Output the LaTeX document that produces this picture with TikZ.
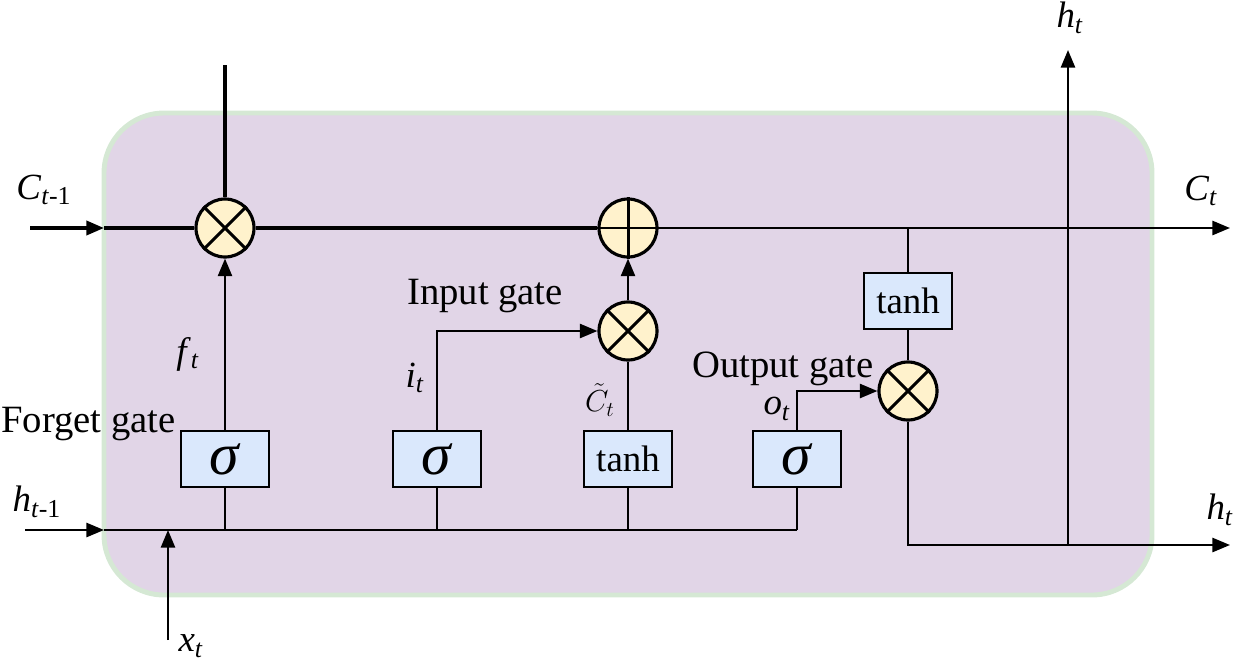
\documentclass[tikz,border=0pt]{standalone}
\usepackage{fontspec}
\setmainfont{Liberation Serif}
\usetikzlibrary{arrows.meta}
\definecolor{cellpurple}{HTML}{E1D5E7}
\definecolor{cellborder}{HTML}{D5E8D4}
\definecolor{boxblue}{HTML}{DAE8FC}
\definecolor{opyellow}{HTML}{FFF2CC}
\newcommand{\lsym}[2]{\textit{#1}\textsubscript{#2}}
\newcommand{\sigsym}{{\fontsize{34}{36}\selectfont\textit{σ}}}
\begin{document}
\begin{tikzpicture}[x=0.02cm,y=-0.02cm,
  line width=1.35pt,
  arr/.style={-{Triangle[length=10pt,width=8pt]}},
  gatebox/.style={draw, fill=boxblue, line width=1.6pt, minimum width=1.76cm, minimum height=1.12cm, inner sep=0pt, font=\fontsize{21}{25}\selectfont},
  op/.style={circle, draw, fill=opyellow, line width=1.8pt, minimum size=1.16cm, inner sep=0pt},
  lbl/.style={inner sep=0pt, font=\fontsize{21}{25}\selectfont},
  txt/.style={inner sep=0pt, font=\fontsize{22}{26}\selectfont}]
\useasboundingbox (0,0) rectangle (1240,663);
\draw[draw=cellborder, fill=cellpurple, line width=2.8pt, rounded corners=1.2cm] (104,113) rectangle (1152,595);

% operators
\node[op] (fx) at (225,228) {};
\draw[line width=1.7pt] (fx.north east) -- (fx.south west) (fx.north west) -- (fx.south east);
\node[op] (add) at (628,228) {};
\draw[line width=1.7pt] (add.north) -- (add.south) (add.west) -- (add.east);
\node[op] (ix) at (628,331) {};
\draw[line width=1.7pt] (ix.north east) -- (ix.south west) (ix.north west) -- (ix.south east);
\node[op] (ox) at (908,391) {};
\draw[line width=1.7pt] (ox.north east) -- (ox.south west) (ox.north west) -- (ox.south east);

% gate boxes
\node[gatebox] (fs) at (225,459) {\sigsym};
\node[gatebox] (is) at (437,459) {\sigsym};
\node[gatebox] (ct) at (628,459) {tanh};
\node[gatebox] (os) at (797,459) {\sigsym};
\node[gatebox] (th) at (908,301) {tanh};

% coordinates
\coordinate (cin) at (30,228);
\coordinate (cedge) at (104,228);
\coordinate (cout) at (1230,228);
\coordinate (hin) at (25,530);
\coordinate (hedge) at (104,530);
\coordinate (hend) at (797,530);
\coordinate (xin) at (168,640);
\coordinate (xjoin) at (168,530);
\coordinate (ftop) at (225,65);
\coordinate (tapC) at (908,228);
\coordinate (hsplit) at (1068,545);
\coordinate (hout) at (1230,545);
\coordinate (hup) at (1068,50);

% cell state line
\draw[arr, line width=1.9pt] (cin) -- (cedge);
\draw[line width=2.3pt] (cedge) -- (fx.west);
\draw[line width=2.3pt] (fx.east) -- (add.west);
\draw[arr] (add.east) -- (cout);
\draw[line width=1.9pt] (fx.north) -- (ftop);

% hidden/input line
\draw[arr] (hin) -- (hedge);
\draw (hedge) -- (hend);
\draw[arr] (xin) -- (xjoin);
\draw (fs.south) -- (fs.south |- hedge);
\draw (is.south) -- (is.south |- hedge);
\draw (ct.south) -- (ct.south |- hedge);
\draw (os.south) -- (os.south |- hedge);

% gates
\draw[arr] (fs.north) -- (fx.south);
\draw[arr] (is.north) |- (ix.west);
\draw (ct.north) -- (ix.south);
\draw[arr] (ix.north) -- (add.south);
\draw[arr] (os.north) |- (ox.west);
\draw (tapC) -- (th.north);
\draw (th.south) -- (ox.north);
\draw[arr] (ox.south) |- (hout);
\draw[arr] (hsplit) -- (hup);

% labels
\node[lbl] (lcin) at (44,190) {\lsym{C}{\textit{t}-1}};
\node[lbl] (lhin) at (37,502) {\lsym{h}{\textit{t}-1}};
\node[lbl] (lx) at (191,646) {\lsym{x}{\textit{t}}};
\node[lbl] (lf) at (188,354) {\lsym{f}{\textit{t}}};
\node[lbl] (li) at (415,378) {\lsym{i}{\textit{t}}};
\node[lbl, font=\fontsize{17}{20}\selectfont] (lct) at (600,400) {$\tilde{C}_t$};
\node[lbl] (lo) at (777,409) {\lsym{o}{\textit{t}}};
\node[lbl] (lhtop) at (1070,18) {\lsym{h}{\textit{t}}};
\node[lbl] (lcout) at (1201,191) {\lsym{C}{\textit{t}}};
\node[lbl] (lhout) at (1220,510) {\lsym{h}{\textit{t}}};
\node[txt, anchor=west] (tf) at (0,424) {Forget gate};
\node[txt] (ti) at (485,296) {Input gate};
\node[txt] (to) at (783,369) {Output gate};
\end{tikzpicture}
\end{document}
